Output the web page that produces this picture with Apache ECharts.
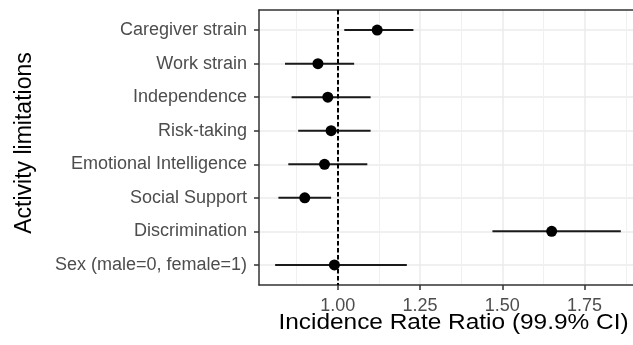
<!DOCTYPE html>
<html>
<head>
<meta charset="utf-8">
<script src="https://cdn.jsdelivr.net/npm/echarts@6/dist/echarts.min.js"></script>
<style>html,body{margin:0;padding:0;background:#fff}#c{width:633px;height:345px}</style>
</head>
<body>
<div id="c"></div>
<script>
const categories = ['Caregiver strain','Work strain','Independence','Risk-taking','Emotional Intelligence','Social Support','Discrimination','Sex (male=0, female=1)'];
const irr   = [1.12, 0.94, 0.97, 0.98, 0.96, 0.90, 1.65, 0.99];
const lower = [1.02, 0.84, 0.86, 0.88, 0.85, 0.82, 1.47, 0.81];
const upper = [1.23, 1.05, 1.10, 1.10, 1.09, 0.98, 1.86, 1.21];
const xTicks = [1.00, 1.25, 1.50, 1.75];
const xMinor = [0.875, 1.125, 1.375, 1.625, 1.875];
const refValue = 1;
const xTitle = 'Incidence Rate Ratio (99.9% CI)';
const yTitle = 'Activity limitations';

const FONT = '"Liberation Sans", Arial, sans-serif';
const yPos = categories.map((c, i) => i + 1);
const X_MIN = 0.761, X_MAX = 1.897;

const chart = echarts.init(document.getElementById('c'), null, {renderer: 'canvas'});
const option = {
  animation: false,
  grid: {left: 259, top: 10, right: 0, height: 275, containLabel: false},
  xAxis: [
    {
      type: 'value', position: 'bottom', min: X_MIN, max: X_MAX,
      axisLine: {show: true, lineStyle: {color: '#333333', width: 1.5}},
      axisTick: {show: true, length: 5, customValues: xTicks, lineStyle: {color: '#333333', width: 1.5}},
      axisLabel: {show: true, customValues: xTicks, margin: 12, color: '#4d4d4d', fontSize: 18, fontFamily: FONT,
                  formatter: v => v.toFixed(2)},
      splitLine: {show: true, lineStyle: {color: '#ebebeb', width: 1.5}}
    },
    {
      type: 'value', position: 'top', min: X_MIN, max: X_MAX,
      axisLine: {show: true, lineStyle: {color: '#333333', width: 1.5}},
      axisTick: {show: false, customValues: xMinor},
      axisLabel: {show: false, customValues: xMinor},
      splitLine: {show: true, lineStyle: {color: '#f0f0f0', width: 1}}
    }
  ],
  yAxis: {
    type: 'value', inverse: true, min: 0.4, max: categories.length + 0.6,
    axisLine: {show: true, lineStyle: {color: '#333333', width: 1.5}},
    axisTick: {show: true, length: 5, customValues: yPos, lineStyle: {color: '#333333', width: 1.5}},
    axisLabel: {show: true, customValues: yPos, margin: 12, color: '#4d4d4d', fontSize: 18, fontFamily: FONT,
                formatter: v => categories[Math.round(v) - 1] || ''},
    splitLine: {show: true, lineStyle: {color: '#ebebeb', width: 1.5}}
  },
  graphic: [
    {type: 'text', x: 25, y: 143, rotation: Math.PI / 2,
     style: {text: yTitle, fill: '#000', font: '23px ' + FONT, textAlign: 'center', textVerticalAlign: 'middle'}},
    {type: 'text', x: 453.5, y: 323, scaleX: 1.11,
     style: {text: xTitle, fill: '#000', font: '22px ' + FONT, textAlign: 'center', textVerticalAlign: 'middle'}}
  ],
  series: [
    {
      type: 'custom', xAxisIndex: 0,
      data: lower.map((l, i) => [l, upper[i], yPos[i]]),
      encode: {x: [0, 1], y: 2},
      renderItem: function (params, api) {
        const p1 = api.coord([api.value(0), api.value(2)]);
        const p2 = api.coord([api.value(1), api.value(2)]);
        return {type: 'line', shape: {x1: p1[0], y1: p1[1], x2: p2[0], y2: p2[1]},
                style: {stroke: '#1a1a1a', lineWidth: 2}};
      },
      z: 3
    },
    {
      type: 'scatter', xAxisIndex: 0,
      data: irr.map((v, i) => [v, yPos[i]]),
      symbol: 'circle', symbolSize: 11,
      itemStyle: {color: '#000', opacity: 1},
      z: 5,
      markLine: {
        silent: true, symbol: 'none', label: {show: false},
        lineStyle: {color: '#000', type: [4.5, 2.5], width: 2, opacity: 1},
        data: [{xAxis: refValue}]
      }
    }
  ]
};
chart.setOption(option);
</script>
</body>
</html>
